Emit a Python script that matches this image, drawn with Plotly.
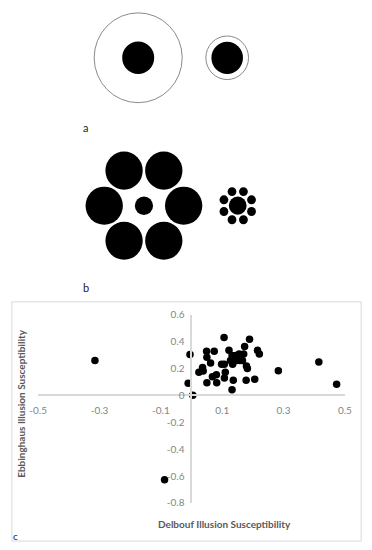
import math
import plotly.graph_objects as go

# ---- Data (panel c) ----
delbouf = [-0.315, -0.088, -0.005, -0.011, 0.004, 0.024, 0.036, 0.038, 0.049, 0.050,
           0.050, 0.062, 0.068, 0.074, 0.081, 0.082, 0.098, 0.106, 0.107, 0.110,
           0.107, 0.122, 0.127, 0.132, 0.134, 0.132, 0.136, 0.144, 0.148, 0.155,
           0.158, 0.166, 0.170, 0.173, 0.179, 0.182, 0.178, 0.189, 0.206, 0.215,
           0.221, 0.283, 0.415, 0.473, 0.140]
ebbinghaus = [0.259, -0.627, 0.303, 0.090, 0.000, 0.172, 0.206, 0.180, 0.327, 0.283,
              0.094, 0.240, 0.138, 0.327, 0.153, 0.094, 0.230, 0.429, 0.230, 0.172,
              0.128, 0.334, 0.259, 0.295, 0.230, 0.041, 0.111, 0.295, 0.259, 0.307,
              0.259, 0.259, 0.307, 0.363, 0.218, 0.200, 0.111, 0.416, 0.119, 0.334,
              0.307, 0.182, 0.247, 0.082, 0.272]

x_tickvals = [-0.5, -0.3, -0.1, 0.1, 0.3, 0.5]
x_ticktext = ["-0.5", "-0.3", "-0.1", "0.1", "0.3", "0.5"]
y_tickvals = [0.6, 0.4, 0.2, 0.0, -0.2, -0.4, -0.6, -0.8]
y_ticktext = ["0.6", "0.4", "0.2", "0", "-0.2", "-0.4", "-0.6", "-0.8"]

x_title = "Delbouf Illusion Susceptibility"
y_title = "Ebbinghaus Illusion Susceptibility"
panel_labels = ["a", "b", "c"]

W, H = 372, 550
FONT = "Lato"

fig = go.Figure()
fig.add_trace(go.Scatter(
    x=delbouf, y=ebbinghaus, mode="markers",
    marker=dict(color="black", size=7.5, line=dict(width=0)),
    xaxis="x", yaxis="y", showlegend=False, hoverinfo="skip"))

# helper axis in pixel units for the illustrations
fig.add_trace(go.Scatter(x=[0], y=[0], xaxis="x2", yaxis="y2", mode="markers",
                         marker=dict(opacity=0), showlegend=False, hoverinfo="skip"))

shapes = []

def circ(cx, cy, r, fill=None, line_color=None, lw=0):
    shapes.append(dict(type="circle", xref="x2", yref="y2",
                       x0=cx - r, x1=cx + r, y0=cy - r, y1=cy + r,
                       fillcolor=fill if fill else "rgba(0,0,0,0)",
                       line=dict(color=line_color if line_color else "rgba(0,0,0,0)", width=lw),
                       layer="above"))

# panel a
circ(135, 52, 46, line_color="#8a8a8a", lw=1)
circ(135, 52, 16.7, fill="black")
circ(228, 52, 22.3, line_color="#8a8a8a", lw=1)
circ(228, 52, 16.5, fill="black")

# panel b
cx, cy = 141, 203.5
for k in range(6):
    a = math.radians(60 * k)
    circ(cx + 41.5 * math.cos(a), cy + 41.5 * math.sin(a), 19.5, fill="black")
circ(cx, cy, 9.5, fill="black")
cx2, cy2 = 239, 203.5
circ(cx2, cy2, 9.3, fill="black")
for k in range(8):
    a = math.radians(22.5 + 45 * k)
    circ(cx2 + 15.6 * math.cos(a), cy2 + 15.6 * math.sin(a), 4.6, fill="black")

# frame for panel c
shapes.append(dict(type="rect", xref="x2", yref="y2", x0=3, x1=368, y0=302, y1=547,
                   line=dict(color="#d9d9d9", width=1), fillcolor="rgba(0,0,0,0)", layer="below"))

annotations = [
    dict(text=panel_labels[0], xref="x2", yref="y2", x=80, y=123, showarrow=False,
         font=dict(family=FONT, size=11, color="#222"), xanchor="center", yanchor="middle"),
    dict(text=panel_labels[1], xref="x2", yref="y2", x=80, y=287, showarrow=False,
         font=dict(family=FONT, size=11, color="#222"), xanchor="center", yanchor="middle"),
    dict(text=panel_labels[2], xref="x2", yref="y2", x=7, y=542, showarrow=False,
         font=dict(family=FONT, size=10, color="#222"), xanchor="center", yanchor="middle"),
    dict(text="<b>" + x_title + "</b>", xref="x2", yref="y2", x=225, y=530, showarrow=False,
         font=dict(family=FONT, size=10, color="#595959"), xanchor="center", yanchor="middle"),
    dict(text="<b>" + y_title + "</b>", xref="x2", yref="y2", x=13, y=406, showarrow=False,
         textangle=-90,
         font=dict(family=FONT, size=10, color="#595959"), xanchor="center", yanchor="middle"),
]

fig.update_layout(
    width=W, height=H, margin=dict(l=0, r=0, t=0, b=0, pad=0),
    paper_bgcolor="white", plot_bgcolor="rgba(0,0,0,0)",
    font=dict(family=FONT),
    xaxis=dict(domain=[30.5 / W, 351 / W], range=[-0.5, 0.5],
               tickvals=x_tickvals, ticktext=x_ticktext,
               showgrid=False, zeroline=False, showline=True,
               linecolor="#d9d9d9", linewidth=1.5, ticks="",
               anchor="free", position=1 - 397.5 / H,
               tickfont=dict(family=FONT, size=10, color="#858585"),
               ticklabelstandoff=6, fixedrange=True),
    yaxis=dict(domain=[1 - 508 / H, 1 - 315 / H], range=[-0.8, 0.6],
               tickvals=y_tickvals, ticktext=y_ticktext,
               showgrid=False, zeroline=False, showline=True,
               linecolor="#d9d9d9", linewidth=1.5, ticks="",
               anchor="free", position=190.5 / W,
               tickfont=dict(family=FONT, size=10, color="#858585"),
               ticklabelstandoff=4, fixedrange=True),
    xaxis2=dict(domain=[0, 1], range=[0, W], visible=False, anchor="y2",
                fixedrange=True),
    yaxis2=dict(domain=[0, 1], range=[H, 0], visible=False, anchor="x2",
                fixedrange=True),
    shapes=shapes, annotations=annotations,
)

fig.write_html("out.html", config={"displayModeBar": False, "responsive": False},
               post_script="document.body.style.margin='0';document.body.style.padding='0';")
